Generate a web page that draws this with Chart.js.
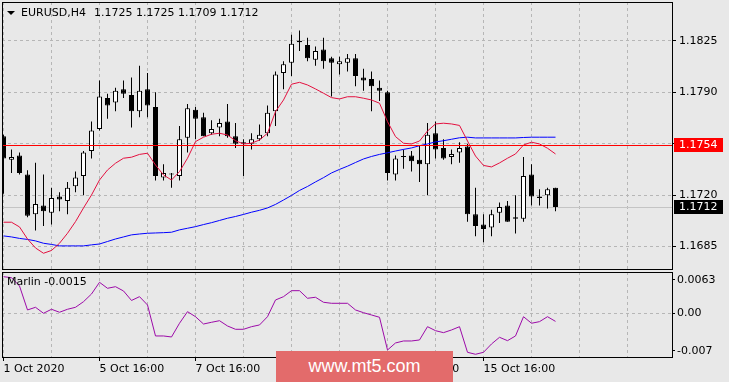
<!DOCTYPE html>
<html>
<head>
<meta charset="utf-8">
<script src="https://cdn.jsdelivr.net/npm/chart.js@4.4.1/dist/chart.umd.min.js"></script>
<style>
html,body{margin:0;padding:0;background:#e8e8e8;}
body{width:729px;height:382px;position:relative;overflow:hidden;}
#main{position:absolute;left:0;top:0;}
#osc{position:absolute;left:0;top:271px;}
#mark{position:absolute;left:276px;top:351px;width:177px;height:31px;background:#e36b6b;color:#fff;
font:18px "Liberation Sans",Arial,sans-serif;line-height:30px;text-align:center;}
</style>
</head>
<body>
<canvas id="main" width="729" height="271"></canvas>
<canvas id="osc" width="729" height="111"></canvas>
<div id="mark">www.mt5.com</div>
<script>
const SYMBOL = "EURUSD,H4";

/* -------- DATA (H4 candles) -------- */

const OPEN = [1.1760,1.1744,1.1747,1.1734,1.1707,1.1713,1.1708,1.1719,1.1716,1.1726,
1.1733,1.1750,1.1765,1.1786,1.1783,1.1792,1.1788,1.1777,1.1792,1.1780,
1.1732,1.1734,1.1733,1.1759,1.1778,1.1773,1.1762,1.1766,1.1770,1.1760,
1.1756,1.1755,1.1758,1.1762,1.1777,1.1803,1.1810,1.1824,1.1822,1.1812,
1.1819,1.1813,1.1809,1.1810,1.1813,1.1800,1.1799,1.1793,1.1790,1.1734,
1.1746,1.1747,1.1744,1.1741,1.1762,1.1752,1.1746,1.1749,1.1753,1.1707,
1.1700,1.1698,1.1708,1.1713,1.1705,1.1704,1.1734,1.1719,1.1720,1.1725];

const HIGH = [1.1761,1.1751,1.1749,1.1737,1.1742,1.1734,1.1725,1.1722,1.1729,1.1736,
1.1750,1.1770,1.1798,1.1789,1.1793,1.1798,1.1800,1.1808,1.1803,1.1790,
1.1741,1.1735,1.1767,1.1782,1.1780,1.1776,1.1771,1.1772,1.1782,1.1769,
1.1758,1.1762,1.1768,1.1781,1.1804,1.1811,1.1829,1.1832,1.1827,1.1821,
1.1827,1.1814,1.1814,1.1816,1.1816,1.1806,1.1804,1.1798,1.1791,1.1747,
1.1751,1.1750,1.1754,1.1769,1.1770,1.1758,1.1751,1.1756,1.1755,1.1725,
1.1707,1.1710,1.1715,1.1716,1.1720,1.1746,1.1741,1.1724,1.1725,1.1725];

const LOW = [1.1721,1.1735,1.1734,1.1705,1.1696,1.1699,1.1700,1.1709,1.1707,1.1722,
1.1720,1.1745,1.1764,1.1772,1.1777,1.1786,1.1766,1.1773,1.1773,1.1730,
1.1730,1.1725,1.1730,1.1749,1.1758,1.1760,1.1761,1.1760,1.1759,1.1752,
1.1733,1.1751,1.1757,1.1760,1.1767,1.1792,1.1801,1.1818,1.1811,1.1808,
1.1806,1.1787,1.1802,1.1804,1.1794,1.1791,1.1777,1.1784,1.1730,1.1730,
1.1738,1.1736,1.1729,1.1720,1.1745,1.1744,1.1741,1.1742,1.1702,1.1692,
1.1688,1.1692,1.1701,1.1702,1.1694,1.1702,1.1713,1.1713,1.1711,1.1709];

const CLOSE = [1.1745,1.1746,1.1735,1.1706,1.1714,1.1709,1.1718,1.1717,1.1725,1.1732,
1.1749,1.1764,1.1787,1.1781,1.1791,1.1789,1.1777,1.1791,1.1781,1.1733,
1.1735,1.1734,1.1758,1.1779,1.1772,1.1760,1.1765,1.1769,1.1760,1.1755,
1.1755,1.1758,1.1761,1.1776,1.1802,1.1809,1.1823,1.1825,1.1813,1.1818,
1.1811,1.1810,1.1811,1.1813,1.1801,1.1798,1.1794,1.1791,1.1735,1.1745,
1.1746,1.1743,1.1741,1.1761,1.1751,1.1745,1.1748,1.1752,1.1707,1.1699,
1.1697,1.1707,1.1712,1.1702,1.1704,1.1733,1.1719,1.1718,1.1724,1.1712];

// red moving average
const MA_FAST = [1.17016,1.17016,1.16984,1.16902,1.16841,1.16805,1.16824,1.16873,1.16941,1.17020,
1.17113,1.17201,1.17303,1.17371,1.17417,1.17451,1.17458,1.17477,1.17485,1.17405,
1.17337,1.17303,1.17360,1.17451,1.17564,1.17594,1.17614,1.17621,1.17609,1.17570,
1.17548,1.17553,1.17575,1.17621,1.17768,1.17847,1.17954,1.17967,1.17949,1.17922,
1.17893,1.17863,1.17854,1.17869,1.17869,1.17859,1.17847,1.17825,1.17700,1.17598,
1.17553,1.17548,1.17568,1.17636,1.17684,1.17689,1.17684,1.17674,1.17568,1.17466,
1.17402,1.17392,1.17419,1.17451,1.17480,1.17541,1.17560,1.17548,1.17519,1.17480];

// blue moving average
const MA_SLOW = [1.16923,1.16916,1.16906,1.16899,1.16889,1.16873,1.16865,1.16855,1.16855,1.16855,
1.16855,1.16862,1.16868,1.16885,1.16902,1.16916,1.16930,1.16936,1.16941,1.16943,
1.16945,1.16948,1.16964,1.16975,1.16986,1.17000,1.17013,1.17028,1.17043,1.17055,
1.17069,1.17084,1.17097,1.17113,1.17137,1.17167,1.17198,1.17232,1.17259,1.17290,
1.17319,1.17351,1.17375,1.17397,1.17422,1.17446,1.17463,1.17477,1.17488,1.17500,
1.17511,1.17521,1.17536,1.17548,1.17562,1.17570,1.17580,1.17590,1.17594,1.17589,
1.17589,1.17589,1.17589,1.17589,1.17589,1.17592,1.17594,1.17594,1.17594,1.17594];

const MARLIN = [0.00687,0.00669,0.00513,0.00064,0.00114,0.00002,0.00077,0.00021,0.00077,0.00114,
0.00219,0.00363,0.00582,0.00470,0.00500,0.00420,0.00242,0.00313,0.00157,-0.00423,
-0.00423,-0.00442,-0.00185,0.00032,-0.00062,-0.00199,-0.00167,-0.00137,-0.00236,-0.00298,
-0.00298,-0.00249,-0.00217,-0.00062,0.00251,0.00313,0.00425,0.00425,0.00283,0.00302,
0.00208,0.00189,0.00189,0.00189,0.00064,0.00013,-0.00030,-0.00073,-0.00686,-0.00554,
-0.00517,-0.00517,-0.00498,-0.00249,-0.00324,-0.00361,-0.00311,-0.00249,-0.00729,-0.00766,
-0.00729,-0.00573,-0.00448,-0.00511,-0.00423,-0.00062,-0.00185,-0.00155,-0.00062,-0.0015];

const TIME_TICKS = [0,12,24,36,48,60];
const TIME_LABELS = ["1 Oct 2020","5 Oct 16:00","7 Oct 16:00","9 Oct 16:00","13 Oct 16:00","15 Oct 16:00"];

const PRICE_TICKS = [1.1685,1.1720,1.1755,1.1790,1.1825];
const OSC_TICKS = [-0.007,0,0.0063];
const OSC_LABELS = ["-0.007","0.00","0.0063"];

const LEVEL = 1.1754;
const BID = CLOSE[CLOSE.length-1];


/* -------- LOOK -------- */

const GRID = "#b6b6b6";
const X_MIN = -0.1875, X_MAX = 83.5625;

Chart.defaults.font.family = "DejaVu Sans";
Chart.defaults.font.size = 11;
Chart.defaults.color = "#000";

function gridTicks(scale){
scale.ticks = [];
for(let v=0; v<=X_MAX; v+=6) scale.ticks.push({value:v});
}

function noPad(scale){
scale.paddingTop=0; scale.paddingBottom=0;
scale.paddingLeft=0; scale.paddingRight=0;
}

function priceBox(ctx, y, value, bg){
const py = Math.round(y);
ctx.fillStyle = bg;
ctx.fillRect(674, py-7, 49, 14);
ctx.fillStyle = "#fff";
ctx.textAlign = "left";
ctx.textBaseline = "middle";
ctx.fillText(value.toFixed(4), 679, py);
}


/* -------- MAIN PANEL -------- */

const mainDecor = {
id:"mainDecor",
beforeDatasetsDraw(chart){
const {ctx, chartArea:a, scales:{y}} = chart;
const yb = Math.round(y.getPixelForValue(BID))+0.5;
ctx.save();
ctx.strokeStyle="#c4c4c4";
ctx.lineWidth=1;
ctx.beginPath(); ctx.moveTo(a.left,yb); ctx.lineTo(a.right,yb); ctx.stroke();
ctx.restore();
},
afterDatasetsDraw(chart){
const {ctx, chartArea:a, scales:{y}} = chart;
const yl = Math.round(y.getPixelForValue(LEVEL))+0.5;
ctx.save();
ctx.strokeStyle="#ff0000";
ctx.lineWidth=1;
ctx.beginPath(); ctx.moveTo(a.left,yl); ctx.lineTo(a.right,yl); ctx.stroke();
ctx.restore();
},
afterDraw(chart){
const {ctx, chartArea:a, scales:{y}} = chart;
ctx.save();
ctx.strokeStyle="#000";
ctx.lineWidth=1;
ctx.strokeRect(a.left+0.5, a.top+0.5, a.right-a.left, a.bottom-a.top);

ctx.font = "11px 'DejaVu Sans'";
priceBox(ctx, y.getPixelForValue(LEVEL), LEVEL, "#ff0000");
priceBox(ctx, y.getPixelForValue(BID), BID, "#000");

// header
const n = CLOSE.length-1;
ctx.fillStyle="#000";
ctx.beginPath(); ctx.moveTo(7,11); ctx.lineTo(15,11); ctx.lineTo(11,15); ctx.closePath(); ctx.fill();
ctx.textAlign="left";
ctx.textBaseline="middle";
ctx.fillText(SYMBOL, 21, 13);
ctx.fillText([OPEN[n],HIGH[n],LOW[n],CLOSE[n]].map(v=>v.toFixed(4)).join(" "), 94, 13);
ctx.restore();
}
};

new Chart(document.getElementById("main"),{
type:"bar",
data:{
datasets:[
{
type:"bar",
data:LOW.map((l,i)=>({x:i, y:[l, HIGH[i]]})),
backgroundColor:"#000",
borderWidth:0,
barThickness:1,
grouped:false,
inflateAmount:0,
order:3
},
{
type:"bar",
data:OPEN.map((o,i)=>({x:i, y:[o, CLOSE[i]]})),
backgroundColor:OPEN.map((o,i)=> CLOSE[i]>o ? "#fff" : "#000"),
borderColor:"#000",
borderWidth:1,
borderSkipped:false,
barThickness:5,
minBarLength:1,
grouped:false,
inflateAmount:0,
order:2
},
{
type:"line",
data:MA_SLOW.map((v,i)=>({x:i, y:v})),
borderColor:"#0000ff",
borderWidth:1,
pointRadius:0,
order:1
},
{
type:"line",
data:MA_FAST.map((v,i)=>({x:i, y:v})),
borderColor:"#e3103f",
borderWidth:1,
pointRadius:0,
order:0
}
]
},
options:{
responsive:false,
animation:false,
events:[],
layout:{padding:{left:2, top:2, right:0, bottom:0}},
plugins:{legend:{display:false}, tooltip:{enabled:false}},
scales:{
x:{
type:"linear",
min:X_MIN, max:X_MAX,
offset:false,
afterBuildTicks:gridTicks,
afterFit(s){ s.height=2; noPad(s); },
ticks:{display:false},
grid:{color:GRID, lineWidth:1, drawTicks:false, offset:false},
border:{display:false, dash:[3,3]}
},
y:{
type:"linear",
position:"right",
min:1.16698, max:1.18513,
beginAtZero:false,
afterBuildTicks(s){ s.ticks = PRICE_TICKS.map(v=>({value:v})); },
afterFit(s){ s.width=57; noPad(s); },
ticks:{padding:3, callback:v=>v.toFixed(4)},
grid:{color:GRID, lineWidth:1, tickColor:"#000", tickLength:4, tickBorderDash:[]},
border:{display:false, dash:[3,3]}
}
}
},
plugins:[mainDecor]
});


/* -------- MARLIN PANEL -------- */

const oscDecor = {
id:"oscDecor",
afterDraw(chart){
const {ctx, chartArea:a} = chart;
ctx.save();
ctx.strokeStyle="#000";
ctx.lineWidth=1;
ctx.strokeRect(a.left+0.5, a.top+0.5, a.right-a.left, a.bottom-a.top);
ctx.font = "11px 'DejaVu Sans'";
ctx.fillStyle="#000";
ctx.textAlign="left";
ctx.textBaseline="middle";
ctx.fillText("Marlin "+MARLIN[MARLIN.length-1].toFixed(4), 7, 11);
ctx.restore();
}
};

new Chart(document.getElementById("osc"),{
type:"line",
data:{
datasets:[{
data:MARLIN.map((v,i)=>({x:i, y:v})),
borderColor:"#9c0aa8",
borderWidth:1,
pointRadius:0
}]
},
options:{
responsive:false,
animation:false,
events:[],
layout:{padding:{left:2, top:1, right:0, bottom:0}},
plugins:{legend:{display:false}, tooltip:{enabled:false}},
scales:{
x:{
type:"linear",
min:X_MIN, max:X_MAX,
afterBuildTicks:gridTicks,
afterFit(s){ s.height=25; noPad(s); },
ticks:{
autoSkip:false, maxRotation:0, minRotation:0, align:"start", padding:2,
callback:v=>{ const k=TIME_TICKS.indexOf(v); return k<0 ? "" : TIME_LABELS[k]; }
},
grid:{
color:GRID, lineWidth:1, tickLength:4, tickBorderDash:[],
tickColor:c=> c.tick && TIME_TICKS.includes(c.tick.value) ? "#000" : "rgba(0,0,0,0)"
},
border:{display:false, dash:[3,3]}
},
y:{
type:"linear",
position:"right",
min:-0.00817, max:0.00775,
afterBuildTicks(s){ s.ticks = OSC_TICKS.map(v=>({value:v})); },
afterFit(s){ s.width=57; noPad(s); },
ticks:{padding:2, callback:v=>OSC_LABELS[OSC_TICKS.indexOf(v)]},
grid:{
color:c=> c.tick && c.tick.value===0 ? GRID : "rgba(0,0,0,0)",
lineWidth:1, tickColor:"#000", tickLength:3, tickBorderDash:[]
},
border:{display:false, dash:[3,3]}
}
}
},
plugins:[oscDecor]
});
</script>
</body>
</html>
